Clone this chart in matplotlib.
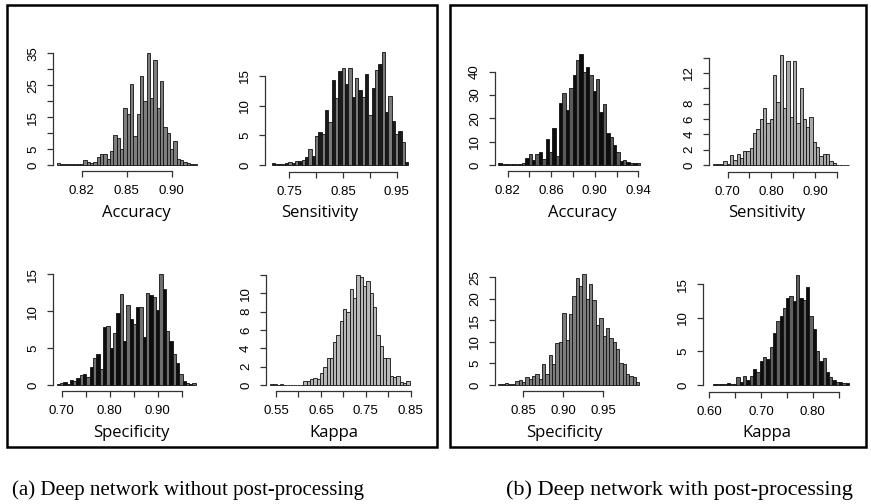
import matplotlib.pyplot as plt
from matplotlib.patches import Rectangle
import numpy as np

W, H = 871, 504

# ---- data: bin start (centre of first bin), bin width, bin counts ----
# (a) without post-processing
acc_a_start, acc_a_width = 0.7740, 0.0037
acc_a = [0.5, 0.2, 0.2, 0.2, 0.2, 0.2, 0.2, 0.2, 1.5, 1.0, 0.5, 1.0, 2.5, 3.3,
         3.3, 2.0, 4.5, 9.5, 8.5, 5.0, 18, 16, 25.5, 9, 16, 28, 20, 35, 21, 33,
         18, 26.5, 12, 10, 5, 7.5, 2, 1.5, 1, 0.5, 0.3, 0.3]

sen_a_start, sen_a_width = 0.7202, 0.0062
sen_a = [0.3, 0.2, 0.2, 0.2, 0.4, 0.5, 0.3, 0.6, 0.7, 0.9, 1.3, 2.7, 1.5, 4.8,
         5.6, 5.3, 9.2, 7.3, 14.3, 11.3, 15.8, 16.3, 13.7, 16.3, 11.4, 14.6,
         12.7, 11.5, 15.3, 8.5, 13, 16, 17, 19, 9, 11.6, 7.4, 5.3, 5.7, 3.8, 0.5]

spe_a_start, spe_a_width = 0.6929, 0.0069
spe_a = [0.2, 0.3, 0.4, 0.2, 0.7, 0.5, 1.0, 1.4, 1.5, 1.1, 2.4, 3.7, 4.2, 2.2,
         7.8, 8.0, 5.0, 7.0, 9.8, 12.3, 6.0, 10.8, 9.0, 8.2, 10.5, 10.5, 6.5,
         12.5, 12.2, 11.9, 10.1, 15.0, 13.0, 7.3, 6.0, 4.2, 3.0, 1.5, 0.5, 0.3,
         0.2, 0.3]

kap_a_start, kap_a_width = 0.5404, 0.0074
kap_a = [0.15, 0.1, 0.05, 0.15, 0.05, 0.05, 0.05, 0.05, 0.05, 0.05, 0.4, 0.4,
         0.7, 0.8, 0.7, 1.3, 2.0, 2.9, 3.0, 4.7, 5.5, 7.0, 8.3, 8.0, 10.5, 9.5,
         12.0, 11.8, 10.8, 11.3, 10.0, 8.5, 5.4, 4.2, 3.0, 2.9, 1.0, 0.9, 1.0,
         0.3, 0.2, 0.4]

# (b) with post-processing
acc_b_start, acc_b_width = 0.8129, 0.0031
acc_b = [0.7, 0.3, 0.3, 0.5, 0.3, 0.3, 0.3, 1.0, 2.8, 4.5, 2.0, 4.6, 5.6, 2.5,
         11, 5.5, 16, 4, 26.5, 31, 23.5, 33, 38.5, 45, 47.5, 40, 42, 38.5, 31.5,
         37, 22.5, 26, 13.5, 12, 8.5, 5.5, 1.5, 2.0, 1.2, 0.8, 0.8, 0.8]

sen_b_start, sen_b_width = 0.6709, 0.0076
sen_b = [0.1, 0.1, 0.1, 0.5, 0.1, 1.3, 0.6, 1.4, 0.9, 1.8, 1.8, 2.2, 4.2, 4.7,
         6.0, 7.5, 5.5, 6.0, 11.7, 8.2, 14.3, 7.5, 13.6, 6.3, 13.6, 5.5, 10.0,
         6.0, 5.0, 6.2, 3.0, 2.4, 1.2, 1.5, 1.5, 0.5, 0.3, 0.05, 0.05, 0.05, 0.05]

spe_b_start, spe_b_width = 0.8209, 0.0042
spe_b = [0.3, 0.3, 0.5, 0.3, 0.2, 1.0, 1.2, 0.8, 1.8, 1.3, 2.0, 2.5, 1.5, 4.8,
         2.5, 7.0, 4.8, 9.7, 10.0, 16.7, 10.5, 16.4, 20.6, 24.8, 23.0, 25.8,
         20.0, 23.5, 19.7, 14.0, 15.5, 11.3, 13.2, 11.0, 10.0, 8.3, 5.0, 4.8,
         2.5, 2.0, 1.9, 0.8]

kap_b_start, kap_b_width = 0.6110, 0.0064
kap_b = [0.2, 0.1, 0.1, 0.1, 0.3, 0.1, 0.1, 1.2, 0.5, 1.4, 0.8, 1.3, 2.4, 2.0,
         3.5, 4.2, 3.8, 5.6, 7.8, 9.5, 10.2, 11.4, 13.0, 13.3, 12.5, 16.4, 13.0,
         12.6, 14.6, 10.2, 8.4, 5.0, 3.6, 4.0, 2.0, 1.2, 0.8, 0.5, 0.4, 0.3, 0.3]

# axis ticks and labels
acc_a_xt = [0.80, 0.85, 0.90]
acc_a_xl = ["0.82", "0.85", "0.90"]
acc_a_yt = [0, 5, 10, 15, 20, 25, 30, 35]
acc_a_yl = ["0", "5", "", "15", "", "25", "", "35"]

sen_a_xt = [0.75, 0.80, 0.85, 0.90, 0.95]
sen_a_xl = ["0.75", "", "0.85", "", "0.95"]
sen_a_yt = [0, 5, 10, 15]
sen_a_yl = ["0", "5", "10", "15"]

spe_a_xt = [0.70, 0.75, 0.80, 0.85, 0.90, 0.95]
spe_a_xl = ["0.70", "", "0.80", "", "0.90", ""]
spe_a_yt = [0, 5, 10, 15]
spe_a_yl = ["0", "5", "10", "15"]

kap_a_xt = [0.55, 0.60, 0.65, 0.70, 0.75, 0.80, 0.85]
kap_a_xl = ["0.55", "", "0.65", "", "0.75", "", "0.85"]
kap_a_yt = [0, 2, 4, 6, 8, 10, 12]
kap_a_yl = ["0", "2", "4", "6", "8", "10", ""]

acc_b_xt = [0.82, 0.84, 0.86, 0.88, 0.90, 0.92, 0.94]
acc_b_xl = ["0.82", "", "0.86", "", "0.90", "", "0.94"]
acc_b_yt = [0, 10, 20, 30, 40]
acc_b_yl = ["0", "10", "20", "30", "40"]

sen_b_xt = [0.70, 0.75, 0.80, 0.85, 0.90, 0.95]
sen_b_xl = ["0.70", "", "0.80", "", "0.90", ""]
sen_b_yt = [0, 2, 4, 6, 8, 10, 12, 14]
sen_b_yl = ["0", "2", "4", "6", "8", "", "12", ""]

spe_b_xt = [0.85, 0.90, 0.95]
spe_b_xl = ["0.85", "0.90", "0.95"]
spe_b_yt = [0, 5, 10, 15, 20, 25]
spe_b_yl = ["0", "5", "10", "15", "20", "25"]

kap_b_xt = [0.60, 0.65, 0.70, 0.75, 0.80, 0.85]
kap_b_xl = ["0.60", "", "0.70", "", "0.80", ""]
kap_b_yt = [0, 5, 10, 15]
kap_b_yl = ["0", "5", "10", "15"]

captions = ["(a) Deep network without post-processing",
            "(b) Deep network with post-processing"]

# ---- layout: axes box in pixels (left, bottom, right, top), limits, colours, label centre ----
panels = [
    ("Accuracy", acc_a_start, acc_a_width, acc_a, acc_a_xt, acc_a_xl, acc_a_yt, acc_a_yl,
     (53, 171, 200, 48), (0.7681, 0.9314), (-1.88, 36.7), ["#7e7e7e"], (136, 213)),
    ("Sensitivity", sen_a_start, sen_a_width, sen_a, sen_a_xt, sen_a_xl, sen_a_yt, sen_a_yl,
     (265, 171.7, 412, 48), (0.7047, 0.9784), (-1.13, 19.7), ["#1a1a1a", "#7a7a7a"], (320, 213)),
    ("Specificity", spe_a_start, spe_a_width, spe_a, spe_a_xt, spe_a_xl, spe_a_yt, spe_a_yl,
     (53, 390.7, 200, 268), (0.6819, 0.9881), (-0.77, 15.85), ["#0d0d0d", "#6e6e6e"], (131, 433)),
    ("Kappa", kap_a_start, kap_a_width, kap_a, kap_a_xt, kap_a_xl, kap_a_yt, kap_a_yl,
     (266, 390.7, 413, 268), (0.5277, 0.8551), (-0.62, 12.76), ["#b8b8b8"], (334, 433)),
    ("Accuracy", acc_b_start, acc_b_width, acc_b, acc_b_xt, acc_b_xl, acc_b_yt, acc_b_yl,
     (495, 170.7, 645, 48), (0.8083, 0.9462), (-2.44, 50.1), ["#0d0d0d", "#5a5a5a"], (582, 213)),
    ("Sensitivity", sen_b_start, sen_b_width, sen_b, sen_b_xt, sen_b_xl, sen_b_yt, sen_b_yl,
     (709.3, 171.7, 855, 48), (0.6578, 0.9920), (-0.87, 15.26), ["#a9a9a9"], (767, 213)),
    ("Specificity", spe_b_start, spe_b_width, spe_b, spe_b_xt, spe_b_xl, spe_b_yt, spe_b_yl,
     (495, 390.7, 645, 268), (0.8146, 1.0021), (-1.33, 27.2), ["#7d7d7d"], (564, 433)),
    ("Kappa", kap_b_start, kap_b_width, kap_b, kap_b_xt, kap_b_xl, kap_b_yt, kap_b_yl,
     (703.3, 391.7, 855, 268), (0.5884, 0.8818), (-1.0, 17.4), ["#0d0d0d", "#606060"], (767, 433)),
]

fig = plt.figure(figsize=(W / 100, H / 100), dpi=100)
fig.patch.set_facecolor("white")

tick_font = "Liberation Sans"

for (name, start, width, counts, xt, xl, yt, yl, box, xlim, ylim, cols, lab) in panels:
    l, b, r, t = box
    ax = fig.add_axes([l / W, 1 - b / H, (r - l) / W, (b - t) / H])
    centres = start + width * np.arange(len(counts))
    colors = [cols[i % len(cols)] for i in range(len(counts))]
    ax.bar(centres, counts, width=width, color=colors, edgecolor="#111111", linewidth=0.6)
    ax.set_xlim(*xlim)
    ax.set_ylim(*ylim)
    ax.patch.set_alpha(0)
    for s in ["top", "right"]:
        ax.spines[s].set_visible(False)
    ax.spines["left"].set_bounds(yt[0], yt[-1])
    ax.spines["bottom"].set_bounds(xt[0], xt[-1])
    for s in ["left", "bottom"]:
        ax.spines[s].set_color("#333333")
        ax.spines[s].set_linewidth(0.9)
    ax.set_xticks(xt)
    ax.set_xticklabels(xl, fontsize=9.5, family=tick_font)
    ax.set_yticks(yt)
    ax.set_yticklabels(yl, fontsize=9.5, family=tick_font)
    for lbl in ax.get_yticklabels():
        lbl.set_rotation(90)
        lbl.set_va("center")
        lbl.set_ha("right")
    ax.tick_params(axis="x", length=4, width=0.9, color="#333333", pad=6)
    ax.tick_params(axis="y", length=4, width=0.9, color="#333333", pad=6)
    fig.text(lab[0] / W, 1 - lab[1] / H, name, fontsize=12, family="Open Sans",
             ha="center", va="center")

# frames around the two groups
for (x0, y0, x1, y1) in [(7, 5, 437, 447), (450, 5, 866, 447)]:
    fig.add_artist(Rectangle((x0 / W, 1 - y1 / H), (x1 - x0) / W, (y1 - y0) / H,
                             transform=fig.transFigure, fill=False,
                             edgecolor="black", linewidth=1.8))

fig.text(188 / W, 1 - 490 / H, captions[0], fontsize=15, family="Liberation Serif",
         ha="center", va="center")
fig.text(679 / W, 1 - 490 / H, captions[1], fontsize=16, family="Liberation Serif",
         ha="center", va="center")

fig.savefig("out.png", dpi=100)
